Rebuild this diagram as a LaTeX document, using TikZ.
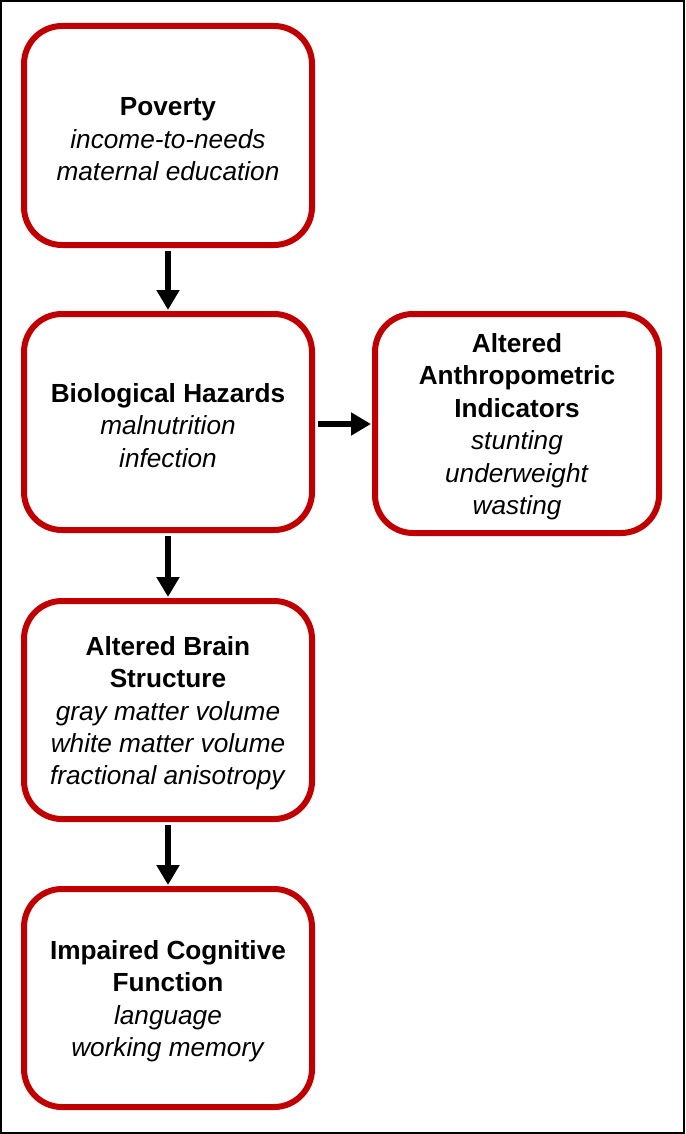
\documentclass[tikz,border=0pt]{standalone}
\usepackage{fontspec}
\setmainfont{Liberation Sans}
\usetikzlibrary{arrows.meta}
\definecolor{boxred}{HTML}{C00000}
\newcommand\firststrut{\rule{0pt}{25.5pt}}
\begin{document}
\begin{tikzpicture}[x=1pt,y=-1pt,
  box/.style={draw=boxred, line width=6pt, rounded corners=38pt, align=center,
    inner sep=0pt, font=\fontsize{26.2}{32.4}\selectfont, text=black},
  conn/.style={-{Triangle[length=20pt,width=22pt]}, line width=6pt, shorten >=1pt, shorten <=3pt}]
\useasboundingbox (0,0) rectangle (685,1134);
\draw[line width=2pt] (1,1) rectangle (684,1133);

\node[box, minimum width=288pt, minimum height=219pt] (pov) at (168,135.5)
  {\firststrut\textbf{Poverty}\\\textit{income-to-needs}\\\textit{maternal education}};
\node[box, minimum width=288pt, minimum height=216pt] (bio) at (168,422)
  {\firststrut\textbf{Biological Hazards}\\\textit{malnutrition}\\\textit{infection}};
\node[box, minimum width=284pt, minimum height=219pt] (anth) at (517,423.5)
  {\firststrut\textbf{Altered}\\\textbf{Anthropometric}\\\textbf{Indicators}\\\textit{stunting}\\\textit{underweight}\\\textit{wasting}};
\node[box, minimum width=288pt, minimum height=218pt] (brain) at (168,710)
  {\firststrut\textbf{Altered Brain}\\\textbf{Structure}\\\textit{gray matter volume}\\\textit{white matter volume}\\\textit{fractional anisotropy}};
\node[box, minimum width=288pt, minimum height=218pt] (cog) at (168,998)
  {\firststrut\textbf{Impaired Cognitive}\\\textbf{Function}\\\textit{language}\\\textit{working memory}};

\draw[conn] (pov.south) -- (bio.north);
\draw[conn] (bio.south) -- (brain.north);
\draw[conn] (brain.south) -- (cog.north);
\draw[conn] (bio.east |- 0,424) -- (anth.west |- 0,424);
\end{tikzpicture}
\end{document}
